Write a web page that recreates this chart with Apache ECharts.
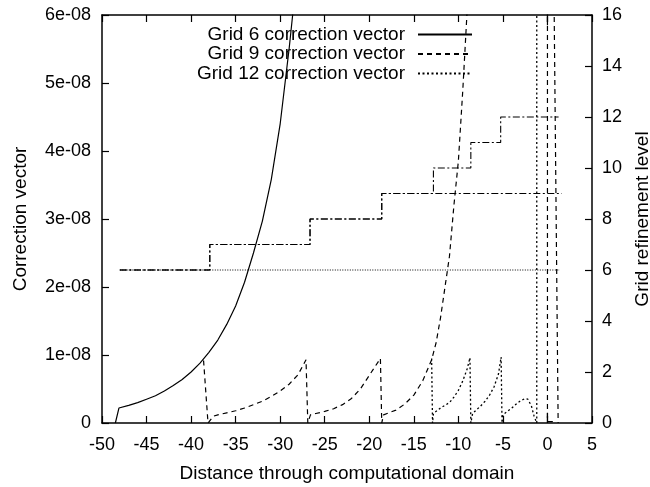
<!DOCTYPE html>
<html><head><meta charset="utf-8">
<script src="https://cdn.jsdelivr.net/npm/echarts@6/dist/echarts.min.js"></script>
<style>html,body{margin:0;padding:0;background:#fff}#c{width:650px;height:487px}</style>
</head><body><div id="c"></div>
<script>
const FONT = '"Liberation Sans", Arial, Helvetica, sans-serif';
const INK = '#000';

// tick labels
const leftTickLabels = ['0', '1e-08', '2e-08', '3e-08', '4e-08', '5e-08', '6e-08'];
const rightTickLabels = ['0', '2', '4', '6', '8', '10', '12', '14', '16'];

// series names
const legendNames = ['Grid 6 correction vector', 'Grid 9 correction vector', 'Grid 12 correction vector'];

// Grid 6 correction vector (null = gap)
const grid6X = [-48.5, -48.1, -47, -46, -45, -44, -43, -42, -41, -40, -39, -38, -37, -36, -35, -34, -33, -32, -31, -30, -29, -28.6, -28.3, -14, 0.0, 0.0, 0.0, 0.0, 0.0];
const grid6Y = [0, 0.22e-8, 0.26e-8, 0.30e-8, 0.35e-8, 0.40e-8, 0.47e-8, 0.55e-8, 0.64e-8, 0.75e-8, 0.88e-8, 1.04e-8, 1.22e-8, 1.45e-8, 1.72e-8, 2.07e-8, 2.50e-8, 2.97e-8, 3.58e-8, 4.40e-8, 5.50e-8, 6.0e-8, 6.6e-8, null, 6.1e-8, 5.85e-8, null, 0.15e-8, 0];

// Grid 9 correction vector
const grid9X = [-38.6, -38.1, -37.5, -37, -36, -35, -34, -33, -32, -31, -30, -29, -28, -27.1, -26.9, -26.6, -26, -25, -24, -23, -22, -21, -20, -19, -18.75, -18.6, -18.4, -17, -16, -15, -14, -13, -12.5, -12, -11.5, -11, -10.5, -10, -9.5, -9, -8.8, -4, 0.0, 0.0, 0.65, 0.68, 0.72, 1.2];
const grid9Y = [0.92e-8, 0, 0.10e-8, 0.12e-8, 0.15e-8, 0.18e-8, 0.22e-8, 0.27e-8, 0.32e-8, 0.39e-8, 0.47e-8, 0.57e-8, 0.71e-8, 0.93e-8, 0, 0.12e-8, 0.14e-8, 0.17e-8, 0.21e-8, 0.27e-8, 0.36e-8, 0.50e-8, 0.70e-8, 0.90e-8, 0.95e-8, 0, 0.12e-8, 0.19e-8, 0.28e-8, 0.41e-8, 0.62e-8, 0.93e-8, 1.18e-8, 1.55e-8, 2.0e-8, 2.45e-8, 3.2e-8, 3.85e-8, 4.9e-8, 6.1e-8, 6.6e-8, null, 6.5e-8, 0.02e-8, 0.02e-8, null, 6.5e-8, 0];

// Grid 12 correction vector
const grid12X = [-13.0, -12.9, -12.8, -12, -11, -10.5, -10, -9.5, -9, -8.7, -8.6, -8.4, -8, -7.5, -7, -6.5, -6, -5.5, -5.2, -5.1, -5.0, -4.5, -4, -3.5, -3, -2.5, -2.2, -1.8, -1.5, -1.2, -1.2];
const grid12Y = [0.95e-8, 0, 0.14e-8, 0.22e-8, 0.30e-8, 0.38e-8, 0.48e-8, 0.62e-8, 0.80e-8, 0.96e-8, 0, 0.14e-8, 0.19e-8, 0.25e-8, 0.32e-8, 0.41e-8, 0.53e-8, 0.72e-8, 0.97e-8, 0, 0.12e-8, 0.17e-8, 0.22e-8, 0.28e-8, 0.33e-8, 0.36e-8, 0.35e-8, 0.25e-8, 0.10e-8, 0, 6.5e-8];

// Grid refinement levels (right axis), step breakpoints
const level6X = [-48.0, 1.4];
const level6Y = [6, 6];
const level9X = [-48.0, -37.9, -26.65, -18.6, 1.6];
const level9Y = [6, 7, 8, 9, 9];
const level12X = [-48.0, -37.9, -26.65, -18.6, -12.8, -8.6, -5.25, 1.25];
const level12Y = [6, 7, 8, 9, 10, 11, 12, 12];

function pts(xs, ys) { return xs.map((x, i) => [x, ys[i] === null ? '-' : ys[i]]); }

const lineBase = { type: 'line', symbol: 'none', showSymbol: false, animation: false, clip: true, connectNulls: false, silent: true };
const axisLineStyle = { show: true, onZero: false, lineStyle: { color: INK, width: 1.5 } };
const labelStyle = { color: INK, fontFamily: FONT, fontSize: 18 };
const nameStyle = { color: INK, fontFamily: FONT, fontSize: 19 };

const chart = echarts.init(document.getElementById('c'), null, { renderer: 'canvas' });
chart.setOption({
  animation: false,
  backgroundColor: '#fff',
  grid: { left: 102, right: 58, top: 15, bottom: 64, containLabel: false, outerBoundsMode: 'none' },
  legend: {
    data: legendNames,
    orient: 'vertical', align: 'right',
    right: 172, top: 20,
    itemWidth: 54, itemHeight: 19, itemGap: 0.5,
    selectedMode: false,
    itemStyle: { opacity: 0 },
    textStyle: { color: INK, fontFamily: FONT, fontSize: 19, padding: [0, 8, 0, 0] }
  },
  xAxis: [
    {
      type: 'value', position: 'bottom', min: -50, max: 5, interval: 5,
      name: 'Distance through computational domain', nameLocation: 'middle', nameGap: 41,
      nameTextStyle: nameStyle,
      axisLine: axisLineStyle,
      axisTick: { show: true, inside: true, length: 7, lineStyle: { color: INK, width: 1.2 } },
      axisLabel: Object.assign({ margin: 13 }, labelStyle),
      splitLine: { show: false }
    },
    {
      type: 'value', position: 'top', min: -50, max: 5, interval: 5,
      axisLine: axisLineStyle,
      axisTick: { show: true, inside: true, length: 7, lineStyle: { color: INK, width: 1.2 } },
      axisLabel: { show: false },
      splitLine: { show: false }
    }
  ],
  yAxis: [
    {
      type: 'value', position: 'left', min: 0, max: 6e-8, interval: 1e-8,
      name: 'Correction vector', nameLocation: 'middle', nameRotate: 90, nameGap: 72,
      nameTextStyle: nameStyle,
      axisLine: axisLineStyle,
      axisTick: { show: true, inside: true, length: 7, lineStyle: { color: INK, width: 1.2 } },
      axisLabel: Object.assign({ margin: 11, formatter: v => leftTickLabels[Math.round(v / 1e-8)] }, labelStyle),
      splitLine: { show: false }
    },
    {
      type: 'value', position: 'right', min: 0, max: 16, interval: 2,
      name: 'Grid refinement level', nameLocation: 'middle', nameRotate: 90, nameGap: 38,
      nameTextStyle: nameStyle,
      axisLine: axisLineStyle,
      axisTick: { show: true, inside: true, length: 7, lineStyle: { color: INK, width: 1.2 } },
      axisLabel: Object.assign({ margin: 10, formatter: v => rightTickLabels[Math.round(v / 2)] }, labelStyle),
      splitLine: { show: false }
    }
  ],
  series: [
    Object.assign({}, lineBase, { name: 'Grid 6 refinement level', yAxisIndex: 1, step: 'end', data: pts(level6X, level6Y), lineStyle: { color: INK, width: 1, type: [1, 1.5] } }),
    Object.assign({}, lineBase, { name: 'Grid 9 refinement level', yAxisIndex: 1, step: 'end', data: pts(level9X, level9Y), lineStyle: { color: INK, width: 1.1, type: [7, 2.5, 2, 2.5] } }),
    Object.assign({}, lineBase, { name: 'Grid 12 refinement level', yAxisIndex: 1, step: 'end', data: pts(level12X, level12Y), lineStyle: { color: INK, width: 1.1, type: [7, 2.5, 2, 2.5] } }),
    Object.assign({}, lineBase, { name: legendNames[0], yAxisIndex: 0, data: pts(grid6X, grid6Y), itemStyle: { color: INK }, lineStyle: { color: INK, width: 1.2, type: 'solid' } }),
    Object.assign({}, lineBase, { name: legendNames[1], yAxisIndex: 0, data: pts(grid9X, grid9Y), itemStyle: { color: INK }, lineStyle: { color: INK, width: 1.2, type: [5, 4] } }),
    Object.assign({}, lineBase, { name: legendNames[2], yAxisIndex: 0, data: pts(grid12X, grid12Y), itemStyle: { color: INK }, lineStyle: { color: INK, width: 1.3, type: [2, 2.5] } })
  ]
});
</script>
</body></html>
